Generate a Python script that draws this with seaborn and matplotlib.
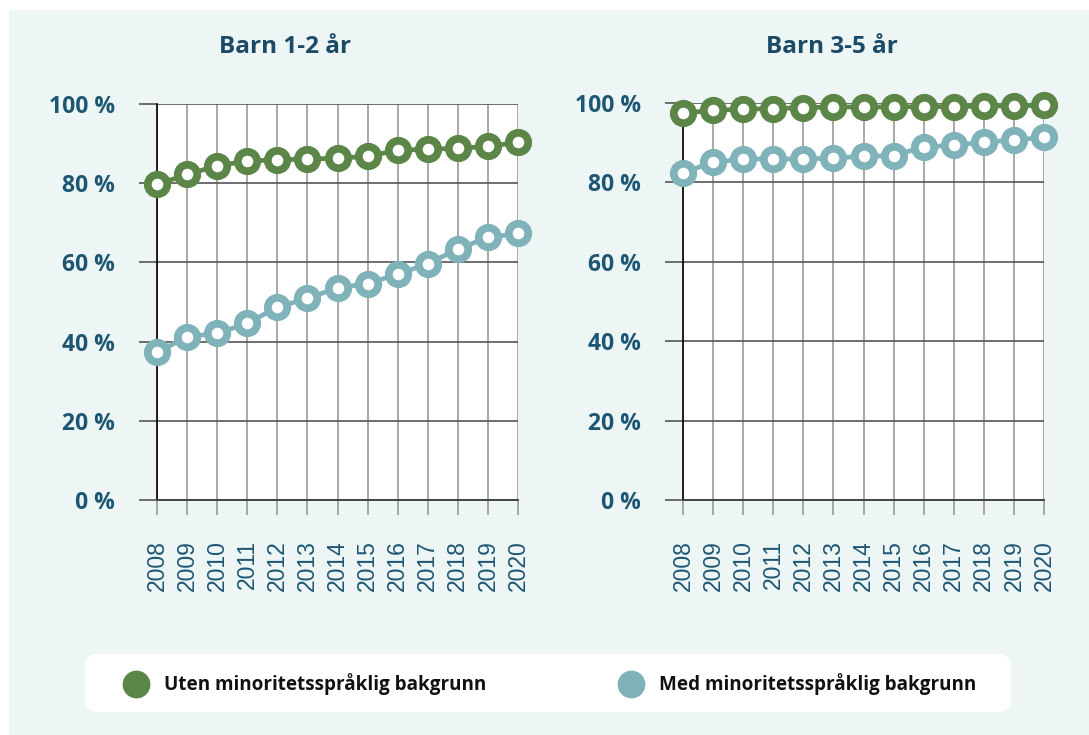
import numpy as np
import pandas as pd
import seaborn as sns
import matplotlib.pyplot as plt
from matplotlib.patches import Rectangle, FancyBboxPatch
from matplotlib.lines import Line2D

years = list(range(2008, 2021))
panels = ["Barn 1-2 år", "Barn 3-5 år"]
series = ["Uten minoritetsspråklig bakgrunn", "Med minoritetsspråklig bakgrunn"]
uten_1_2 = [79.7, 82.2, 84.4, 85.6, 85.9, 86.1, 86.3, 86.8, 88.3, 88.6, 88.8, 89.3, 90.3]
med_1_2 = [37.3, 41.2, 42.1, 44.6, 48.7, 50.9, 53.6, 54.6, 57.1, 59.6, 63.4, 66.3, 67.3]
uten_3_5 = [97.4, 98.2, 98.4, 98.6, 98.8, 99.0, 99.0, 99.0, 99.1, 99.1, 99.2, 99.3, 99.4]
med_3_5 = [82.4, 85.1, 85.9, 85.9, 85.9, 86.1, 86.6, 86.7, 89.0, 89.3, 90.2, 90.6, 91.4]
yticks = [0, 20, 40, 60, 80, 100]
ytick_labels = ["0 %", "20 %", "40 %", "60 %", "80 %", "100 %"]

colors = {series[0]: "#5c8647", series[1]: "#7fb3b9"}
label_color = "#1d5672"
bg = "#edf6f5"

data = {
    panels[0]: {series[0]: uten_1_2, series[1]: med_1_2},
    panels[1]: {series[0]: uten_3_5, series[1]: med_3_5},
}
rows = []
for p in panels:
    for s in series:
        for y, v in zip(years, data[p][s]):
            rows.append({"panel": p, "series": s, "year": y, "value": v})
df = pd.DataFrame(rows)

sns.set_theme(style="white")
plt.rcParams["font.family"] = ["Open Sans", "DejaVu Sans"]

W, H = 1089, 735
fig = plt.figure(figsize=(W / 100, H / 100), dpi=100)
fig.patch.set_facecolor("white")
fig.add_artist(Rectangle((9 / W, 0), 1 - 9 / W, 1 - 10 / H, transform=fig.transFigure,
                         facecolor=bg, edgecolor="none", zorder=-10))

axes_px = [(157, 104, 518, 500), (683, 103, 1044, 500)]
title_x = [285, 832]

for i, p in enumerate(panels):
    x0, y0, x1, y1 = axes_px[i]
    ax = fig.add_axes([x0 / W, 1 - y1 / H, (x1 - x0) / W, (y1 - y0) / H])
    ax.set_facecolor("white")
    sub = df[df.panel == p]
    sns.lineplot(data=sub, x="year", y="value", hue="series", hue_order=series,
                 palette=colors, marker="o", markersize=14.0, markeredgewidth=5.6,
                 linewidth=3.4, legend=False, ax=ax, zorder=5)
    for line in ax.lines:
        line.set_markeredgecolor(line.get_color())
        line.set_markerfacecolor("white")
        line.set_clip_on(False)
    ax.set_xlim(2008, 2020)
    ax.set_ylim(0, 100)
    ax.set_xticks(years)
    ax.set_xticklabels([str(y) for y in years], rotation=90, fontfamily="Liberation Sans",
                       fontsize=16.5, color=label_color)
    ax.set_yticks(yticks)
    ax.set_yticklabels(ytick_labels, fontsize=16.5, fontweight="bold", color=label_color)
    ax.tick_params(axis="y", length=13, width=1.2, color="#555555", pad=17, left=True)
    ax.tick_params(axis="x", length=11, width=1.2, color="#999999", pad=18, bottom=True)
    ax.set_axisbelow(True)
    ax.xaxis.grid(True, color="#999999", linewidth=1.2)
    ax.yaxis.grid(True, color="#555555", linewidth=1.2)
    for sp in ["top", "right"]:
        ax.spines[sp].set_visible(False)
    ax.spines["left"].set_color("black")
    ax.spines["left"].set_linewidth(1.2)
    ax.spines["bottom"].set_color("#444444")
    ax.spines["bottom"].set_linewidth(1.4)
    ax.set_xlabel("")
    ax.set_ylabel("")
    fig.text(title_x[i] / W, 1 - 47 / H, p, ha="center", va="center", fontsize=17.5,
             fontweight="bold", color="#1b4a66")

# legend box
lx0, ly0, lx1, ly1 = 85, 654, 1011, 712
fig.add_artist(FancyBboxPatch((lx0 / W, 1 - ly1 / H), (lx1 - lx0) / W, (ly1 - ly0) / H,
                              boxstyle="round,pad=0,rounding_size=0.012",
                              transform=fig.transFigure, facecolor="white",
                              edgecolor="none", mutation_aspect=W / H))
leg_items = [(136, 164, series[0]), (631, 659, series[1])]
for cx, tx, s in leg_items:
    fig.add_artist(Line2D([cx / W], [1 - 684 / H], transform=fig.transFigure, marker="o",
                          markersize=19, color=colors[s], linestyle="none"))
    fig.text(tx / W, 1 - 684 / H, s, ha="left", va="center", fontsize=13.6,
             fontweight="bold", color="#111111")

fig.savefig("out.png", dpi=100, facecolor=fig.get_facecolor())
